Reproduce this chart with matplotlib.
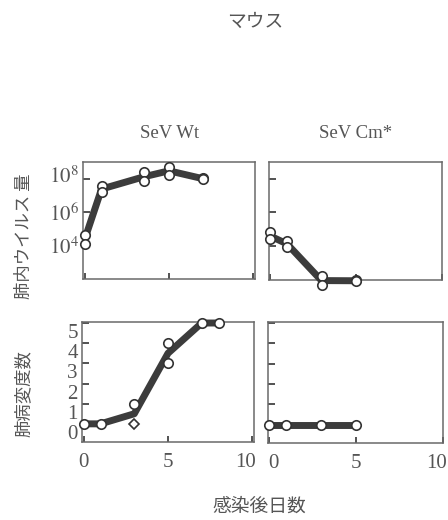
import matplotlib
matplotlib.use('Agg')
import matplotlib.pyplot as plt
import matplotlib.transforms as mtransforms
import numpy as np
import pandas as pd

plt.rcParams['mathtext.fontset'] = 'stix'

# ---------------- data ----------------
title = "マウス"
panel_titles = ["SeV Wt", "SeV Cm*"]
ylabel_virus = "肺内ウイルス 量"
ylabel_lesion = "肺病変度数"
xlabel = "感染後日数"

x_ticks = [0, 5, 10]
virus_ticks = [1e4, 1e6, 1e8]
virus_ticklabels = ["$10^{4}$", "$10^{6}$", "$10^{8}$"]
lesion_ticks = [0, 1, 2, 3, 4, 5]

# log10 lung virus titer, individual animals
wt_virus_days = [0, 0, 1, 1, 3.5, 3.5, 5, 5, 7, 7]
wt_virus_log = [4.6, 4.1, 7.55, 7.2, 8.38, 7.84, 8.7, 8.24, 8.05, 7.95]
cm_virus_days = [0, 0, 1, 1, 3, 3, 5, 5]
cm_virus_log = [4.8, 4.4, 4.32, 3.92, 2.2, 1.67, 1.95, 1.9]

# lung lesion score, individual animals (circles)
wt_lesion_days = [0, 1, 3, 5, 5, 7, 8]
wt_lesion_score = [0, 0, 1, 4, 3, 5, 5]
# individual animals drawn as diamonds
wt_lesion_dia_days = [3]
wt_lesion_dia_score = [0]
cm_lesion_days = [0, 1, 3, 5]
cm_lesion_score = [0, 0, 0, 0]

# ---------------- style ----------------
W, H = 448, 520
fig = plt.figure(figsize=(W / 100, H / 100), dpi=100)
TXT = '#555555'
LINE = '#3c3c3c'
SPINE = '#6a6a6a'
serif = 'Liberation Serif'
cjk = ['Noto Sans CJK JP', 'DejaVu Sans']


def px_axes(l, t, r, b):
    return fig.add_axes([l / W, 1 - b / H, (r - l) / W, (b - t) / H])


ax_tl = px_axes(83, 162, 255, 279)
ax_tr = px_axes(269, 162, 442, 280)
ax_bl = px_axes(82, 322, 254, 442)
ax_br = px_axes(268, 322, 443, 443)


def mean_line(days, vals):
    s = pd.Series(vals, index=days).groupby(level=0).mean()
    return s.index.values, s.values


def draw(ax, days, vals, log=False, dia_days=None, dia_vals=None):
    all_d = list(days) + (list(dia_days) if dia_days else [])
    all_v = list(vals) + (list(dia_vals) if dia_vals else [])
    mx, my = mean_line(all_d, all_v)
    if log:
        my = 10 ** my
        v = 10 ** np.array(vals)
    else:
        v = np.array(vals)
    ax.plot(mx, my, color=LINE, lw=5, solid_capstyle='butt', clip_on=False, zorder=3)
    ax.plot(days, v, ls='none', marker='o', ms=6.8, mfc='white', mec='#333333',
            mew=1.2, clip_on=False, zorder=4)
    if dia_days:
        ax.plot(dia_days, dia_vals, ls='none', marker='D', ms=5.5, mfc='white',
                mec='#333333', mew=1.2, clip_on=False, zorder=4)


draw(ax_tl, wt_virus_days, wt_virus_log, log=True)
draw(ax_tr, cm_virus_days, cm_virus_log, log=True)
draw(ax_bl, wt_lesion_days, wt_lesion_score, dia_days=wt_lesion_dia_days,
     dia_vals=wt_lesion_dia_score)
draw(ax_br, cm_lesion_days, cm_lesion_score)

for ax in (ax_tl, ax_tr):
    ax.set_yscale('log')
    ax.set_ylim(10 ** 1.97, 1e9)
    ax.set_yticks(virus_ticks)
    ax.minorticks_off()
for ax in (ax_bl, ax_br):
    ax.set_ylim(-0.9, 5.05)
    ax.set_yticks(lesion_ticks)

ax_tl.set_xlim(-0.1, 10.1)
ax_bl.set_xlim(-0.1, 10.1)
ax_tr.set_xlim(-0.05, 10.0)
ax_br.set_xlim(-0.05, 10.0)

for ax in (ax_tl, ax_tr, ax_bl, ax_br):
    ax.set_xticks(x_ticks)
    for s in ax.spines.values():
        s.set_color(SPINE)
        s.set_linewidth(1.1)
    ax.tick_params(direction='in', length=5, width=1.3, color='#444444',
                   labelcolor=TXT, labelsize=15, pad=3)
    ax.tick_params(axis='x', length=4, pad=8)

ax_tl.set_yticklabels(virus_ticklabels, fontsize=15, color=TXT)
ax_bl.set_yticklabels([str(t) for t in lesion_ticks], fontfamily=serif)
ax_tr.set_yticklabels([])
ax_br.set_yticklabels([])
ax_tl.set_xticklabels([])
ax_tr.set_xticklabels([])
for ax in (ax_bl, ax_br):
    ax.set_xticklabels([str(t) for t in x_ticks], fontfamily=serif)


def shift(label, dx_px, dy_px):
    off = mtransforms.ScaledTranslation(dx_px / 100, dy_px / 100, fig.dpi_scale_trans)
    label.set_transform(label.get_transform() + off)


# hand-lettered label placement in the original
for lab in ax_bl.get_yticklabels():
    shift(lab, 0, -8)
shift(ax_tl.get_yticklabels()[2], 0, 5)
shift(ax_bl.get_xticklabels()[2], -7, 0)
shift(ax_br.get_xticklabels()[2], -6, 0)
shift(ax_br.get_xticklabels()[0], 5, 0)

# ---------------- text ----------------
def ftxt(x, y, s, **kw):
    fig.text(x / W, 1 - y / H, s, ha='center', va='center', color=TXT, **kw)


ftxt(255, 21, title, family=cjk, fontsize=13.5)
ftxt(170, 133, panel_titles[0], family=serif, fontsize=13.5)
ftxt(356, 133, panel_titles[1], family=serif, fontsize=13.5)
ftxt(24, 236, ylabel_virus, family=cjk, fontsize=12.5, rotation=90)
ftxt(24, 394, ylabel_lesion, family=cjk, fontsize=12.5, rotation=90)
ftxt(259, 506, xlabel, family=cjk, fontsize=13.5)

fig.savefig('out.png', dpi=100)
